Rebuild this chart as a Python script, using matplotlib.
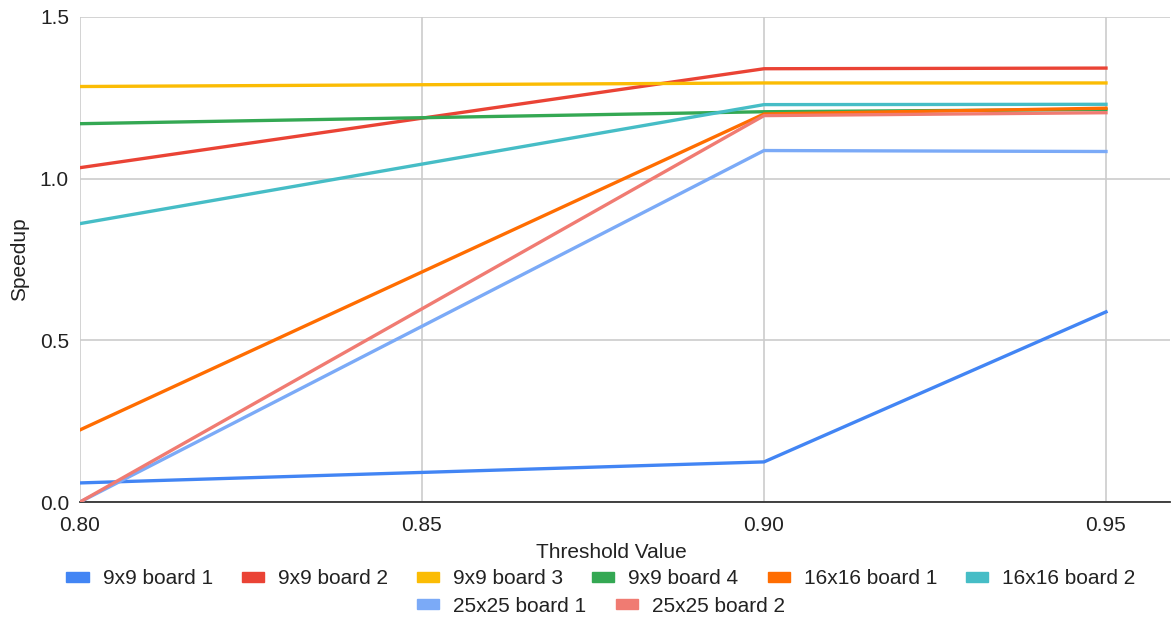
import matplotlib
matplotlib.use('Agg')
import matplotlib.pyplot as plt
import matplotlib.patches as mpatches

plt.rcParams['font.family'] = ['Liberation Sans', 'DejaVu Sans']

# dados
limiares = [0.80, 0.90, 0.95]
series = ['9x9 board 1', '9x9 board 2', '9x9 board 3', '9x9 board 4',
          '16x16 board 1', '16x16 board 2', '25x25 board 1', '25x25 board 2']
b9_1 = [0.059, 0.124, 0.588]
b9_2 = [1.034, 1.340, 1.342]
b9_3 = [1.285, 1.296, 1.296]
b9_4 = [1.170, 1.207, 1.214]
b16_1 = [0.223, 1.200, 1.218]
b16_2 = [0.861, 1.229, 1.230]
b25_1 = [0.0, 1.087, 1.084]
b25_2 = [0.0, 1.195, 1.204]
valores = [b9_1, b9_2, b9_3, b9_4, b16_1, b16_2, b25_1, b25_2]

cores = ['#4285F4', '#EA4335', '#FBBC04', '#34A853',
         '#FF6D01', '#46BDC6', '#7BAAF7', '#F07B72']

tam = 15

fig = plt.figure(figsize=(11.71, 6.18), dpi=100)
ax = fig.add_axes([80 / 1171, 1 - 502 / 618, 1090 / 1171, 485 / 618])

for nome, vals, cor in zip(series, valores, cores):
    ax.plot(limiares, vals, color=cor, linewidth=2.4, label=nome, zorder=3)

ax.set_xlim(0.80, 0.80 + 1090 / 342 * 0.05)
ax.set_ylim(0, 1.5)
ax.set_xticks([0.80, 0.85, 0.90, 0.95])
ax.set_xticklabels(['0.80', '0.85', '0.90', '0.95'])
ax.set_yticks([0.0, 0.5, 1.0, 1.5])
ax.set_yticklabels(['0.0', '0.5', '1.0', '1.5'])
ax.grid(True, color='#cccccc', linewidth=1.2, zorder=0)
ax.set_axisbelow(True)

for lado in ['top', 'right', 'left']:
    ax.spines[lado].set_visible(False)
ax.spines['bottom'].set_color('#333333')
ax.spines['bottom'].set_linewidth(1.3)
ax.tick_params(length=0, labelsize=tam, colors='#222222')
ax.tick_params(axis='x', pad=10)
ax.tick_params(axis='y', pad=8)

ax.set_xlabel('Threshold Value', fontsize=tam, color='#222222')
ax.set_ylabel('Speedup', fontsize=tam, color='#222222')
ax.xaxis.set_label_coords(0.5 - 14 / 1090, -0.085)
ax.yaxis.set_label_coords(-0.047, 0.5)

# legenda em duas linhas centralizadas
handles = [mpatches.Patch(color=c) for c in cores]
kw = dict(frameon=False, fontsize=tam, handlelength=1.06, handleheight=0.38,
          columnspacing=1.4, handletextpad=0.67, labelcolor='#222222',
          borderpad=0, borderaxespad=0)
leg1 = fig.legend(handles[:6], series[:6], loc='center', ncol=6,
                  bbox_to_anchor=(601 / 1171, 1 - 579 / 618), **kw)
leg2 = fig.legend(handles[6:], series[6:], loc='center', ncol=2,
                  bbox_to_anchor=(601 / 1171, 1 - 606 / 618), **kw)

fig.savefig('out.png', dpi=100)
